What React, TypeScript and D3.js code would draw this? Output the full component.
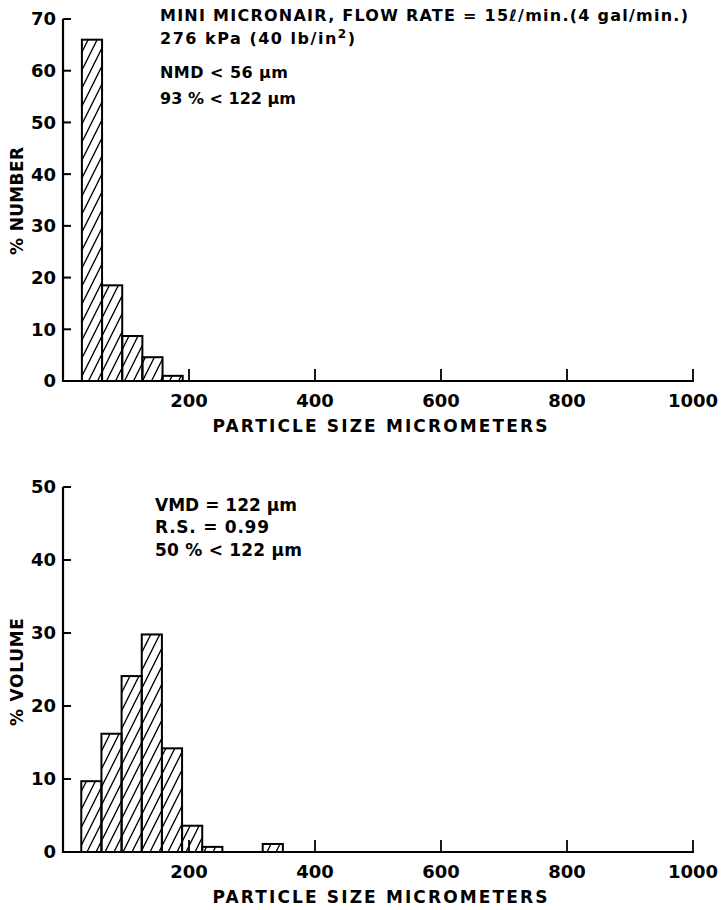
import React from "react";
import * as d3 from "d3";

const xTicks = [200, 400, 600, 800, 1000];
const numberTicks = [0, 10, 20, 30, 40, 50, 60, 70];
const volumeTicks = [0, 10, 20, 30, 40, 50];
const binWidth = 32;
const numberBinStarts = [30, 62, 94, 126, 158];
const numberPct = [66, 18.5, 8.7, 4.6, 1.0];
const volumeBinStarts = [29, 61, 93, 125, 157, 189, 221, 317];
const volumePct = [9.7, 16.2, 24.1, 29.8, 14.2, 3.6, 0.7, 1.1];

const topNotes = [
  "MINI MICRONAIR, FLOW RATE = 15ℓ/min.(4 gal/min.)",
  "276 kPa (40 lb/in",
  "NMD < 56 µm",
  "93 % < 122 µm",
];
const bottomNotes = ["VMD = 122 µm", "R.S. =  0.99", "50 % < 122 µm"];

const FONT = "'DejaVu Sans', sans-serif";

type PanelProps = {
  id: string;
  starts: number[];
  values: number[];
  yMax: number;
  yTicks: number[];
  y0: number;
  y1: number;
  yTitle: string;
  yTitleY: number;
};

function Panel({ id, starts, values, yMax, yTicks, y0, y1, yTitle, yTitleY }: PanelProps) {
  const x = d3.scaleLinear().domain([0, 1000]).range([63, 693]);
  const y = d3.scaleLinear().domain([0, yMax]).range([y0, y1]);
  return (
    <g>
      <defs>
        <pattern id={id} patternUnits="userSpaceOnUse" width={9} height={18}>
          <path d="M0,18 L9,0 M-4.5,9 L4.5,-9 M4.5,27 L13.5,9" stroke="#000" strokeWidth={1.3} />
        </pattern>
      </defs>
      {starts.map((s, i) => (
        <rect
          key={i}
          x={x(s)}
          y={y(values[i])}
          width={x(s + binWidth) - x(s)}
          height={y(0) - y(values[i])}
          fill={`url(#${id})`}
          stroke="#000"
          strokeWidth={2}
        />
      ))}
      <line x1={x(0)} x2={x(0)} y1={y(yMax)} y2={y(0)} stroke="#000" strokeWidth={2.2} />
      {yTicks.map((t) => (
        <g key={t}>
          {t > 0 && <line x1={x(0)} x2={x(0) + 8} y1={y(t)} y2={y(t)} stroke="#000" strokeWidth={2} />}
          <text
            x={x(0) - 7}
            y={y(t)}
            dy="0.36em"
            textAnchor="end"
            fontFamily={FONT}
            fontWeight="bold"
            fontSize={18}
          >
            {t}
          </text>
        </g>
      ))}
      <line x1={x(0) - 1} x2={x(1000) + 1} y1={y(0)} y2={y(0)} stroke="#000" strokeWidth={2.2} />
      {xTicks.map((t) => (
        <g key={t}>
          <line x1={x(t)} x2={x(t)} y1={y(0)} y2={y(0) - 12} stroke="#000" strokeWidth={1.8} />
          <text
            x={x(t)}
            y={y(0) + 20}
            dy="0.36em"
            textAnchor="middle"
            fontFamily={FONT}
            fontWeight="bold"
            fontSize={18}
          >
            {t}
          </text>
        </g>
      ))}
      <text
        x={380}
        y={y(0) + 45}
        dy="0.36em"
        textAnchor="middle"
        fontFamily={FONT}
        fontWeight="bold"
        fontSize={17}
        textLength={335}
        lengthAdjust="spacing"
      >
        PARTICLE SIZE MICROMETERS
      </text>
      <text
        transform={`translate(17,${yTitleY}) rotate(-90)`}
        dy="0.36em"
        textAnchor="middle"
        fontFamily={FONT}
        fontWeight="bold"
        fontSize={17}
        textLength={108}
        lengthAdjust="spacing"
      >
        {yTitle}
      </text>
    </g>
  );
}

export default function App() {
  return (
    <svg width={724} height={910} style={{ position: "absolute", left: 0, top: 0, background: "#fff" }}>
      <rect width={724} height={910} fill="#fff" />
      <Panel
        id="hatchTop"
        starts={numberBinStarts}
        values={numberPct}
        yMax={70}
        yTicks={numberTicks}
        y0={381}
        y1={19}
        yTitle="% NUMBER"
        yTitleY={201}
      />
      <Panel
        id="hatchBottom"
        starts={volumeBinStarts}
        values={volumePct}
        yMax={50}
        yTicks={volumeTicks}
        y0={852}
        y1={487}
        yTitle="% VOLUME"
        yTitleY={672}
      />
      <g fontFamily={FONT} fontWeight="bold" fontSize={16}>
        <text x={160} y={15} dy="0.36em" textLength={528} lengthAdjust="spacing">{topNotes[0]}</text>
        <text x={160} y={38} dy="0.36em" textLength={195} lengthAdjust="spacing">
          {topNotes[1]}
          <tspan dy={-6} fontSize={12}>2</tspan>
          <tspan dy={6}>)</tspan>
        </text>
        <text x={160} y={72} dy="0.36em" textLength={128} lengthAdjust="spacing">{topNotes[2]}</text>
        <text x={160} y={98} dy="0.36em" textLength={136} lengthAdjust="spacing">{topNotes[3]}</text>
      </g>
      <g fontFamily={FONT} fontWeight="bold" fontSize={17}>
        <text x={155} y={505} dy="0.36em" textLength={142} lengthAdjust="spacing">{bottomNotes[0]}</text>
        <text x={155} y={527} dy="0.36em" textLength={114} lengthAdjust="spacing">{bottomNotes[1]}</text>
        <text x={155} y={550} dy="0.36em" textLength={147} lengthAdjust="spacing">{bottomNotes[2]}</text>
      </g>
    </svg>
  );
}
